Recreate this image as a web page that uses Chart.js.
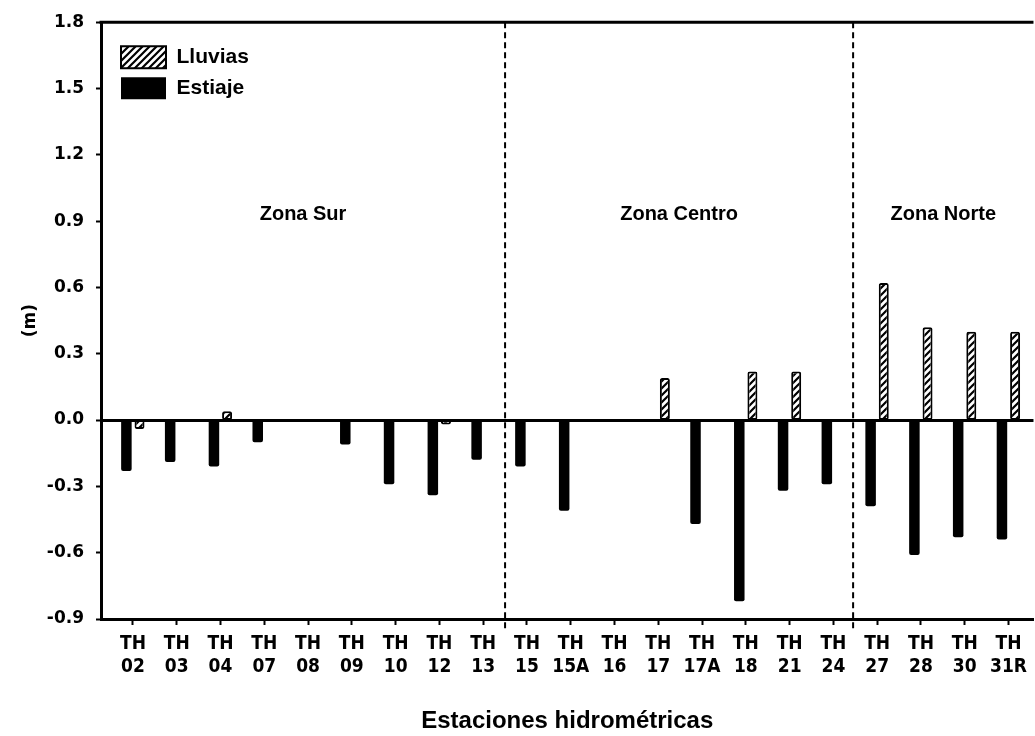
<!DOCTYPE html>
<html>
<head>
<meta charset="utf-8">
<script src="https://cdn.jsdelivr.net/npm/chart.js@4.4.1/dist/chart.umd.min.js"></script>
<style>
  html, body { margin: 0; background: #fff; overflow: hidden; }
</style>
</head>
<body>
<canvas id="grafico-niveles" width="1035" height="736"></canvas>
<script>
// estaciones hidrometricas (eje x)
const estaciones = ["TH 02", "TH 03", "TH 04", "TH 07", "TH 08", "TH 09", "TH 10", "TH 12", "TH 13",
  "TH 15", "TH 15A", "TH 16", "TH 17", "TH 17A", "TH 18", "TH 21", "TH 24",
  "TH 27", "TH 28", "TH 30", "TH 31R"];
// variacion del nivel (m), null = sin barra
const estiaje = [-0.23, -0.19, -0.21, -0.10, null, -0.11, -0.29, -0.34, -0.18,
  -0.21, -0.41, null, null, -0.47, -0.82, -0.32, -0.29,
  -0.39, -0.61, -0.53, -0.54];
const lluvias = [-0.04, null, 0.04, null, null, null, null, -0.02, null,
  null, null, null, 0.19, null, 0.22, 0.22, null,
  0.62, 0.42, 0.40, 0.40];
// eje y
const yMin = -0.9, yMax = 1.8, yPaso = 0.3;
// zonas (limites entre estaciones)
const zonas = ["Zona Sur", "Zona Centro", "Zona Norte"];
const limitesZona = [8.5, 16.45];
const alturaEtiquetaZona = 0.93;

const canvas = document.getElementById("grafico-niveles");
const ctx = canvas.getContext("2d");

// relleno rayado para "Lluvias"
const pc = document.createElement("canvas");
pc.width = 7; pc.height = 7;
const p = pc.getContext("2d");
p.fillStyle = "#fff";
p.fillRect(0, 0, 7, 7);
p.strokeStyle = "#000";
p.lineWidth = 2.2;
p.beginPath();
p.moveTo(0, 7); p.lineTo(7, 0);
p.moveTo(-1, 1); p.lineTo(1, -1);
p.moveTo(6, 8); p.lineTo(8, 6);
p.stroke();
const rayado = ctx.createPattern(pc, "repeat");

const fuenteSans = "'Liberation Sans', Arial, sans-serif";
const fuenteNarrow = "'Liberation Sans Narrow', 'DejaVu Sans Condensed', sans-serif";

const extras = {  // borde superior, lineas de zona y nombres de zona
  id: "extras",
  afterLayout(chart) {
    // leyenda dentro del area del grafico, arriba a la izquierda
    chart.legend.left = chart.chartArea.left + 11;
    chart.legend.top = chart.chartArea.top + 15;
  },
  afterDraw(chart) {
    const { ctx, chartArea: a, scales: { x, y } } = chart;
    ctx.save();
    ctx.strokeStyle = "#000";
    ctx.lineWidth = 3;
    ctx.beginPath();
    ctx.moveTo(a.left - 1.5, a.top);
    ctx.lineTo(a.right, a.top);
    ctx.stroke();

    ctx.lineWidth = 2;
    ctx.setLineDash([6, 4]);
    limitesZona.forEach(v => {
      const px = x.getPixelForValue(v);
      ctx.beginPath();
      ctx.moveTo(px, a.top);
      ctx.lineTo(px, a.bottom + 10);
      ctx.stroke();
    });
    ctx.setLineDash([]);

    const bordes = [a.left].concat(limitesZona.map(v => x.getPixelForValue(v)), [a.right]);
    ctx.fillStyle = "#000";
    ctx.font = "bold 20px " + fuenteSans;
    ctx.textAlign = "center";
    ctx.textBaseline = "middle";
    zonas.forEach((z, i) => {
      ctx.fillText(z, (bordes[i] + bordes[i + 1]) / 2, y.getPixelForValue(alturaEtiquetaZona));
    });
    ctx.restore();
  }
};

new Chart(canvas, {
  type: "bar",
  data: {
    datasets: [
      {
        label: "Estiaje",
        data: estiaje.map((v, i) => ({ x: i, y: v })),
        backgroundColor: "#000",
        borderColor: "#000",
        borderWidth: 0,
        borderRadius: 2,
        borderSkipped: false,
        categoryPercentage: 0.6,
        barPercentage: 0.8
      },
      {
        label: "Lluvias",
        data: lluvias.map((v, i) => ({ x: i, y: v })),
        backgroundColor: rayado,
        borderColor: "#000",
        borderWidth: 2,
        borderRadius: 2,
        borderSkipped: false,
        categoryPercentage: 0.6,
        barPercentage: 0.76
      }
    ]
  },
  options: {
    responsive: false,
    devicePixelRatio: 1,
    animation: false,
    layout: { padding: { top: 18, left: 0, right: 0, bottom: 0 } },
    plugins: {
      legend: {
        position: "chartArea",
        align: "start",
        reverse: true,
        labels: {
          boxWidth: 45,
          boxHeight: 22,
          padding: 9,
          color: "#000",
          font: { family: fuenteSans, size: 21, weight: "bold" }
        }
      },
      tooltip: { enabled: false }
    },
    scales: {
      x: {
        type: "linear",
        min: -0.73,
        max: 20.57,
        offset: false,
        afterBuildTicks: s => { s.ticks = estaciones.map((e, i) => ({ value: i })); },
        afterFit: s => { s.height = 117; },
        ticks: {
          autoSkip: false,
          maxRotation: 0,
          padding: 8,
          color: "#000",
          font: { family: fuenteNarrow, size: 19, weight: "bold", lineHeight: "23px" },
          callback: v => (estaciones[v] || "").split(" ")
        },
        grid: { drawOnChartArea: false, offset: false, tickLength: 6, tickColor: "#000", tickWidth: 2 },
        border: { color: "#000", width: 3 },
        title: {
          display: true,
          text: "Estaciones hidrométricas",
          color: "#000",
          font: { family: fuenteSans, size: 24, weight: "bold" },
          padding: { top: 0, bottom: 0 }
        }
      },
      y: {
        min: yMin,
        max: yMax,
        afterFit: s => { s.width = 101; },
        ticks: {
          stepSize: yPaso,
          padding: 12,
          color: "#000",
          font: { family: "'DejaVu Sans', sans-serif", size: 17, weight: "bold" },
          callback: v => (Math.abs(v) < 1e-9 ? 0 : v).toFixed(1)
        },
        grid: {
          drawOnChartArea: true,
          tickLength: 5,
          tickColor: "#000",
          tickWidth: 2,
          color: c => Math.abs(c.tick.value) < 1e-9 ? "#000" : "rgba(0,0,0,0)",
          lineWidth: c => Math.abs(c.tick.value) < 1e-9 ? 3 : 1
        },
        border: { color: "#000", width: 3 },
        title: {
          display: true,
          text: "(m)",
          color: "#000",
          font: { family: "'DejaVu Sans', sans-serif", size: 17, weight: "bold" },
          padding: { top: 20, bottom: 0 }
        }
      }
    }
  },
  plugins: [extras]
});
</script>
</body>
</html>
